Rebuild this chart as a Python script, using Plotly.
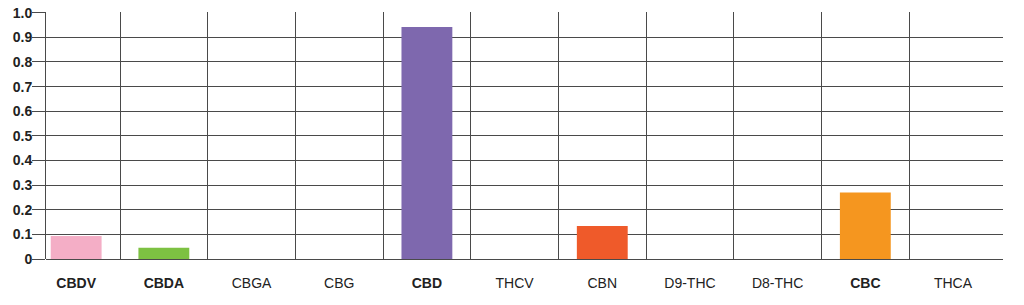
import plotly.graph_objects as go

categories = ["CBDV", "CBDA", "CBGA", "CBG", "CBD", "THCV", "CBN", "D9-THC", "D8-THC", "CBC", "THCA"]
values = [0.093, 0.046, 0, 0, 0.942, 0, 0.134, 0, 0, 0.27, 0]
bold = [True, True, False, False, True, False, False, False, False, True, False]
colors = ["#F4AEC6", "#7DC142", "#CCCCCC", "#CCCCCC", "#7E68AE", "#CCCCCC", "#EF5A2A", "#CCCCCC", "#CCCCCC", "#F5961F", "#CCCCCC"]
y_ticks = [0, 0.1, 0.2, 0.3, 0.4, 0.5, 0.6, 0.7, 0.8, 0.9, 1.0]
y_labels = ["0", "0.1", "0.2", "0.3", "0.4", "0.5", "0.6", "0.7", "0.8", "0.9", "1.0"]

ticktext = [f"<b>{c}</b>" if b else c for c, b in zip(categories, bold)]
positions = list(range(len(categories)))
boundaries = [p + 0.5 for p in positions[:-1]]

fig = go.Figure(go.Bar(x=positions, y=values, marker=dict(color=colors, line=dict(width=0))))

grid = "#4a4a4a"
fig.update_layout(
    width=1024, height=305,
    margin=dict(l=46, r=21, t=12, b=46),
    paper_bgcolor="white", plot_bgcolor="white",
    bargap=0.42,
    showlegend=False,
    font=dict(family="Liberation Sans, Arial", color="#222222"),
)
fig.update_xaxes(
    range=[-0.344, 10.57],
    tickmode="array", tickvals=positions, ticktext=ticktext, ticks="",
    tickfont=dict(size=14, color="#222222"),
    ticklabelstandoff=14,
    showgrid=False,
    minor=dict(tickmode="array", tickvals=boundaries, showgrid=True,
               gridcolor=grid, gridwidth=1, ticks=""),
    showline=False, zeroline=False, automargin=False,
)
fig.update_yaxes(
    range=[0, 1.003],
    tickvals=y_ticks, ticktext=[f"<b>{t}</b>" for t in y_labels],
    showgrid=True, gridcolor=grid, gridwidth=1,
    ticks="outside", ticklen=13, tickcolor=grid, tickwidth=1,
    tickfont=dict(size=14, color="#222222"),
    ticklabelstandoff=-3,
    showline=True, linecolor=grid, linewidth=1,
    zeroline=True, zerolinecolor=grid, zerolinewidth=1,
    automargin=False,
)

fig.write_html("out.html")
